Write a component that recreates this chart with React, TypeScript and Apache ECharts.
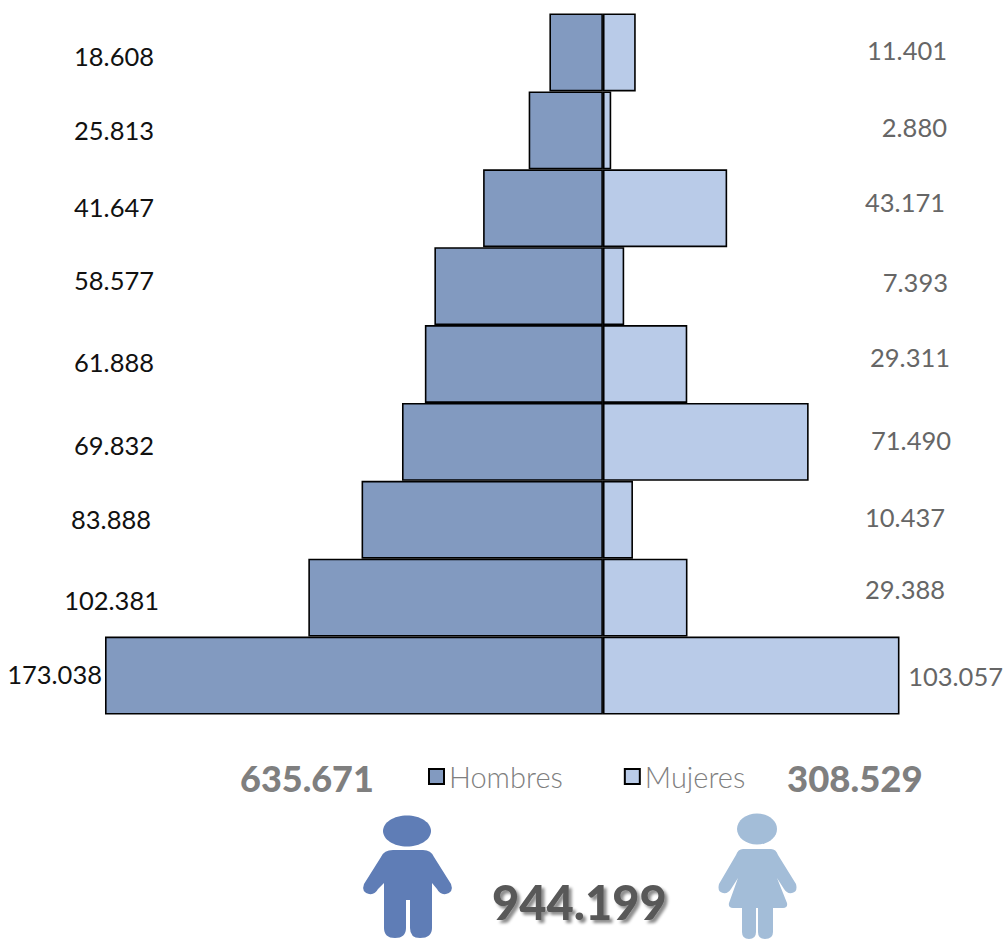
import React, { useEffect, useRef } from "react";
import * as echarts from "echarts";

const groups = ["G9", "G8", "G7", "G6", "G5", "G4", "G3", "G2", "G1"];
const hombres = [18608, 25813, 41647, 58577, 61888, 69832, 83888, 102381, 173038];
const mujeres = [11401, 2880, 43171, 7393, 29311, 71490, 10437, 29388, 103057];
const totalHombres = 635671;
const totalMujeres = 308529;
const totalGeneral = 944199;

const leftLabelAnchors = [[154, 56], [154, 130], [154, 207], [154, 280], [154, 362], [154, 445], [151, 519], [159, 600], [102, 674]];
const rightLabelAnchors = [[947, 50], [947, 127], [945, 202], [948, 282], [950, 357], [951, 440], [945, 517], [945, 589], [1003, 676]];

const MALE =
  "M393 850 L423 850 Q431 850 434 857 L451 884 Q454 892 446 894 Q440 895 437 889 L432 883 L432 928 Q432 938 420 938 Q410 938 410 928 L410 900 L406 900 L406 928 Q406 938 395 938 Q384 938 384 928 L384 883 L378 889 Q375 895 369 894 Q361 892 364 884 L381 857 Q384 850 393 850 Z";
const FEMALE =
  "M745 849 L773 849 Q778 849 780 855 L798 884 Q800 892 794 893 Q789 894 786 889 L779 878 L789 903 Q790 908 785 908 L775 908 L775 932 Q775 939 767 939 Q760 939 760 932 L760 908 L758 908 L758 932 Q758 939 751 939 Q744 939 744 932 L744 908 L735 908 Q730 908 731 903 L740 878 L733 889 Q730 894 725 893 Q719 892 721 884 L738 855 Q740 849 745 849 Z";

const fmt = (v: number) => String(v).replace(/\B(?=(\d{3})+(?!\d))/g, ".");
const FONT = "Lato";

export default function App() {
  const ref = useRef<HTMLDivElement>(null);
  useEffect(() => {
    echarts.graphic.registerShape("maleIcon", echarts.graphic.extendPath(MALE, {}));
    echarts.graphic.registerShape("femaleIcon", echarts.graphic.extendPath(FEMALE, {}));
    const chart = echarts.init(ref.current!, null, { renderer: "svg" });
    const valueText = (v: number, a: number[], fill: string) => ({
      type: "text",
      x: a[0],
      y: a[1],
      style: { text: fmt(v), fill, font: `400 25.5px ${FONT}`, textAlign: "right", textVerticalAlign: "middle" },
    });
    chart.setOption({
      animation: false,
      backgroundColor: "#ffffff",
      grid: { left: 105, top: 13.5, width: 794.5, height: 701, containLabel: false },
      xAxis: { type: "value", min: -173038, max: 103057, show: false },
      yAxis: { type: "category", data: groups, inverse: true, show: false },
      legend: {
        left: 428,
        top: 762,
        padding: 0,
        icon: "rect",
        itemWidth: 15,
        itemHeight: 15,
        itemGap: 61,
        textStyle: { fontFamily: FONT, fontSize: 29, fontWeight: 300, color: "#7f7f7f", padding: [0, 0, 0, 0] },
        data: ["Hombres", "Mujeres"],
      },
      series: [
        {
          name: "Hombres",
          type: "bar",
          stack: "p",
          barCategoryGap: 0,
          data: hombres.map((v) => -v),
          itemStyle: { color: "#829ac0", borderColor: "#000000", borderWidth: 1.6 },
        },
        {
          name: "Mujeres",
          type: "bar",
          stack: "p",
          barCategoryGap: 0,
          data: mujeres,
          itemStyle: { color: "#b9cbe8", borderColor: "#000000", borderWidth: 1.6 },
        },
      ],
      graphic: [
        ...hombres.map((v, i) => valueText(v, leftLabelAnchors[i], "#111111")),
        ...mujeres.map((v, i) => valueText(v, rightLabelAnchors[i], "#666666")),
        { type: "text", x: 240, y: 778, style: { text: fmt(totalHombres), fill: "#7f7f7f", font: `900 36px ${FONT}`, textVerticalAlign: "middle" } },
        { type: "text", x: 787, y: 778, style: { text: fmt(totalMujeres), fill: "#7f7f7f", font: `900 36.5px ${FONT}`, textVerticalAlign: "middle" } },
        {
          type: "text",
          x: 492,
          y: 902,
          style: {
            text: fmt(totalGeneral),
            fill: "#595959",
            font: `900 47px ${FONT}`,
            textVerticalAlign: "middle",
            textShadowColor: "rgba(0,0,0,0.45)",
            textShadowBlur: 3,
            textShadowOffsetX: 3,
            textShadowOffsetY: 3,
          },
        },
        { type: "ellipse", shape: { cx: 407, cy: 831, rx: 24, ry: 15.5 }, style: { fill: "#5f7db6" } },
        { type: "maleIcon", style: { fill: "#5f7db6" } },
        { type: "ellipse", shape: { cx: 757, cy: 829, rx: 20, ry: 15.5 }, style: { fill: "#a3bdd8" } },
        { type: "femaleIcon", x: -2, style: { fill: "#a3bdd8" } },
      ],
    });
    return () => chart.dispose();
  }, []);
  return <div ref={ref} style={{ position: "fixed", left: 0, top: 0, width: 1008, height: 939 }} />;
}
